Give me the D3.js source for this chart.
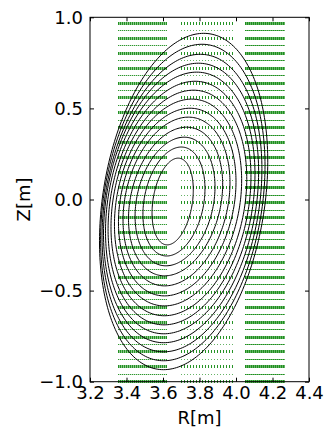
<!DOCTYPE html>
<html>
<head>
<meta charset="utf-8">
<script src="https://cdn.jsdelivr.net/npm/d3@7"></script>
<style>
  html, body { margin: 0; padding: 0; background: #fff; }
  svg { display: block; }
  text { font-family: "DejaVu Sans", sans-serif; }
</style>
</head>
<body>
<svg id="chart" width="324" height="430"></svg>
<script>
// ---- data ----
const rTicks = [3.2, 3.4, 3.6, 3.8, 4.0, 4.2, 4.4];
const zTicks = [-1.0, -0.5, 0.0, 0.5, 1.0];

// flux-surface contours (outer -> inner)
const contourLeft   = [3.252, 3.258, 3.266, 3.274, 3.285, 3.299, 3.315, 3.334, 3.356, 3.381, 3.411, 3.447, 3.490, 3.540];
const contourRight  = [4.174, 4.159, 4.142, 4.124, 4.104, 4.082, 4.059, 4.031, 4.000, 3.967, 3.927, 3.885, 3.830, 3.766];
const contourTop    = [0.912, 0.852, 0.797, 0.748, 0.699, 0.649, 0.600, 0.551, 0.501, 0.452, 0.397, 0.342, 0.288, 0.227];
const contourBottom = [-0.934, -0.885, -0.836, -0.786, -0.737, -0.688, -0.638, -0.584, -0.529, -0.474, -0.419, -0.364, -0.310, -0.249];
const contourTilt   = [0.110, 0.105, 0.100, 0.095, 0.090, 0.085, 0.080, 0.075, 0.070, 0.065, 0.060, 0.050, 0.040, 0.030];

// green measurement grid: R bands and Z rows
const bandStart = [3.355, 3.700, 4.049];
const bandEnd   = [3.620, 3.996, 4.268];
const rowsMajor = [0.970, 0.888, 0.806, 0.724, 0.642, 0.560, 0.478, 0.396, 0.314, 0.232, 0.150, 0.068,
                   -0.014, -0.096, -0.178, -0.260, -0.342, -0.424, -0.506, -0.588, -0.670, -0.752, -0.834, -0.916, -0.998];
const rowsMinor = [0.929, 0.847, 0.765, 0.683, 0.601, 0.519, 0.437, 0.355, 0.273, 0.191, 0.109, 0.027,
                   -0.055, -0.137, -0.219, -0.301, -0.383, -0.465, -0.547, -0.629, -0.711, -0.793, -0.875, -0.957];

// ---- layout ----
const L = 90, R = 309, T = 17.3, B = 381.7;
const x = d3.scaleLinear().domain([3.2, 4.4]).range([L, R]);
const y = d3.scaleLinear().domain([-1, 1]).range([B, T]);

const svg = d3.select("#chart");
const plot = svg.append("g");

svg.append("defs").append("clipPath").attr("id", "clip")
  .append("rect").attr("x", L).attr("y", T - 2).attr("width", R - L).attr("height", B - T + 4);

// ---- green grid ----
const bandStyle = [
  { dashMaj: "1,1", dashMin: "1,1", baseMaj: 0.45, baseMin: 0.25, opMaj: 0.75, opMin: 0.75 },
  { dashMaj: "1,2", dashMin: "1,2", baseMaj: 0.0,  baseMin: 0.0,  opMaj: 0.85, opMin: 0.6 },
  { dashMaj: "1,1", dashMin: "1,1", baseMaj: 0.6,  baseMin: 0.6,  opMaj: 0.7,  opMin: 0.7 }
];
const gGrid = plot.append("g").attr("clip-path", "url(#clip)");
bandStart.forEach((r0, bi) => {
  const r1 = bandEnd[bi];
  const st = bandStyle[bi];
  const x0 = Math.round(x(r0)), x1 = Math.round(x(r1));
  const drawRows = (rows, w, dash, base, op) => {
    rows.forEach(z => {
      const yy = Math.round(y(z)) + 0.5;
      if (base > 0) {
        gGrid.append("line").attr("x1", x0).attr("x2", x1).attr("y1", yy).attr("y2", yy)
          .attr("stroke", "#008000").attr("stroke-width", w).attr("stroke-opacity", base);
      }
      gGrid.append("line").attr("x1", x0).attr("x2", x1).attr("y1", yy).attr("y2", yy)
        .attr("stroke", "#008000").attr("stroke-width", w).attr("stroke-opacity", op)
        .attr("stroke-dasharray", dash);
    });
  };
  drawRows(rowsMajor, 3, st.dashMaj, st.baseMaj, st.opMaj);
  drawRows(rowsMinor, 1, st.dashMin, st.baseMin, st.opMin);
});

// ---- contours ----
const nSamp = d3.range(0, 240);
const line = d3.line().x(d => x(d[0])).y(d => y(d[1])).curve(d3.curveLinearClosed);
contourLeft.forEach((rl, i) => {
  const rr = contourRight[i];
  const s = contourTilt[i];
  const w = (rr - rl) / 2;
  const a = Math.sqrt(Math.max(w * w - s * s, 0.0001));
  const rc = (rr + rl) / 2;
  const b = (contourTop[i] - contourBottom[i]) / 2;
  const zc = (contourTop[i] + contourBottom[i]) / 2;
  const pts = nSamp.map(k => {
    const th = 2 * Math.PI * k / nSamp.length;
    return [rc + a * Math.cos(th) + s * Math.sin(th), zc + b * Math.sin(th)];
  });
  plot.append("path").attr("d", line(pts)).attr("fill", "none")
    .attr("stroke", "#000").attr("stroke-width", 1);
});

// ---- axes ----
const fmt = d3.format(".1f");
svg.append("g").attr("transform", `translate(0,${B})`)
  .call(d3.axisBottom(x).tickValues(rTicks).tickFormat(fmt).tickSizeInner(-4).tickSizeOuter(0).tickPadding(5))
  .call(g => g.select(".domain").remove())
  .call(g => g.selectAll("text").attr("font-size", 18).attr("font-family", "DejaVu Sans").attr("fill", "#000"));
svg.append("g").attr("transform", `translate(0,${T})`)
  .call(d3.axisTop(x).tickValues(rTicks).tickFormat("").tickSizeInner(-4).tickSizeOuter(0))
  .call(g => g.select(".domain").remove());
svg.append("g").attr("transform", `translate(${L},0)`)
  .call(d3.axisLeft(y).tickValues(zTicks).tickFormat(fmt).tickSizeInner(-4).tickSizeOuter(0).tickPadding(7))
  .call(g => g.select(".domain").remove())
  .call(g => g.selectAll("text").attr("font-size", 18).attr("font-family", "DejaVu Sans").attr("fill", "#000"));
svg.append("g").attr("transform", `translate(${R},0)`)
  .call(d3.axisRight(y).tickValues(zTicks).tickFormat("").tickSizeInner(-4).tickSizeOuter(0))
  .call(g => g.select(".domain").remove());

svg.append("rect").attr("x", L).attr("y", T).attr("width", R - L).attr("height", B - T)
  .attr("fill", "none").attr("stroke", "#000").attr("stroke-width", 1);

svg.append("text").attr("x", (L + R) / 2).attr("y", 424).attr("text-anchor", "middle")
  .attr("font-size", 18).text("R[m]");
svg.append("text").attr("transform", `translate(30,${(T + B) / 2}) rotate(-90)`)
  .attr("text-anchor", "middle").attr("font-size", 18).text("Z[m]");
</script>
</body>
</html>
